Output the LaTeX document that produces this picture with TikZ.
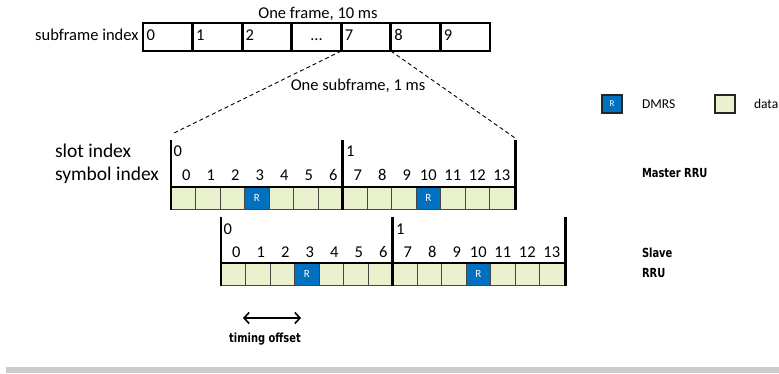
\documentclass[tikz,border=0pt]{standalone}
\usepackage{fontspec}
\setmainfont{Carlito}
\newfontfamily\headfont{DejaVu Sans Condensed Bold}[FakeStretch=0.88]
\usetikzlibrary{arrows.meta,calc}
\definecolor{dmrsblue}{RGB}{0,112,192}
\definecolor{datafill}{RGB}{233,242,205}
\definecolor{cellline}{RGB}{70,70,70}
\definecolor{rulegray}{RGB}{204,204,204}

\begin{document}
\begin{tikzpicture}[x=1pt,y=-1pt,
  every node/.style={inner sep=0pt,outer sep=0pt},
  txt/.style={font=\fontsize{16.5}{18}\selectfont},
  rowlbl/.style={font=\fontsize{19.5}{21}\selectfont},
  small/.style={font=\fontsize{13.5}{15}\selectfont},
  head/.style={font=\headfont\fontsize{12.5}{14}\selectfont},
  framecell/.style={draw=black,line width=2.8pt,minimum width=49.57pt,minimum height=28pt,anchor=north west},
  datacell/.style={draw=cellline,line width=0.8pt,fill=datafill,minimum width=24.5pt,minimum height=22pt,anchor=north west},
  dmrscell/.style={datacell,fill=dmrsblue,text=white,font=\fontsize{11}{11}\selectfont},
  legendbox/.style={draw=black!85,line width=1.2pt,minimum width=20pt,minimum height=18pt,anchor=north west},
  slotbar/.style={line width=2.6pt},
  guide/.style={dash pattern=on 4pt off 3pt,line width=0.9pt},
  offsetarrow/.style={{Straight Barb[length=5pt,width=11pt]}-{Straight Barb[length=5pt,width=11pt]},line width=1.6pt},
]
\useasboundingbox (0,0) rectangle (779,374);

% ---- radio frame of ten subframes ----
\foreach \i in {0,...,6}
  \node[framecell] (f\i) at ({143+\i*49.57},23) {};
\foreach \i/\lab in {0/0,1/1,2/2,4/7,5/8,6/9}
  \node[txt,anchor=base west] (fl\i) at ($(f\i.south west)+(3.5,-10)$) {\lab};
\node[txt,anchor=base] (fl3) at ($(f3.south)+(0,-10)$) {...};
\node[txt,anchor=base east] (sfidx) at ($(f0.south west)+(-4.5,-10)$) {subframe index};
\node[txt,anchor=base] (frametitle) at (318,18.5) {One frame, 10 ms};

% ---- zoom from subframe 7 onto the slot grid ----
\coordinate (zl) at (172,134);
\coordinate (zr) at (515,138);
\draw[guide] (f4.south west) -- (zl);
\draw[guide] (f4.south east) -- (zr);
\node[txt,anchor=base] (subtitle) at (358,91) {One subframe, 1 ms};

% ---- master RRU: two slots of seven symbols ----
\foreach \i in {0,1,2,4,5,6,7,8,9,11,12,13}
  \node[datacell] (m\i) at ({171+\i*24.5},187) {};
\foreach \i in {3,10}
  \node[dmrscell] (m\i) at ({171+\i*24.5},187) {R};
\draw[line width=1.6pt] (m0.north west) -- (m13.north east);
\coordinate (mb0) at (171,140);
\coordinate (mb1) at (342.5,140);
\coordinate (mb2) at (515.5,140);
\draw[slotbar] ($(m0.south west)+(0,1)$) -- (mb0);
\draw[slotbar] ($(m7.south west)+(0,1)$) -- (mb1);
\draw[slotbar] ($(m13.south east)+(1.5,1)$) -- (mb2);
\foreach \i in {0,...,13}{
  \pgfmathsetmacro\dx{ifthenelse(\i<10,3,0)}
  \node[txt,anchor=base] (ms\i) at ($(m\i.north)+(\dx,-6)$) {\i};
}
\node[txt,anchor=base west] (mslot0) at ($(m0.north west)+(2.5,-30)$) {0};
\node[txt,anchor=base west] (mslot1) at ($(m7.north west)+(3.5,-30)$) {1};
\node[rowlbl,anchor=base west] (slotlbl) at (55,158) {slot index};
\node[rowlbl,anchor=base west] (symlbl) at (55,181) {symbol index};
\node[head,anchor=base west] (mrru) at (642,178) {Master RRU};

% ---- slave RRU: same grid, shifted by two symbols ----
\foreach \i in {0,1,2,4,5,6,7,8,9,11,12,13}
  \node[datacell] (s\i) at ({221+\i*24.5},263) {};
\foreach \i in {3,10}
  \node[dmrscell] (s\i) at ({221+\i*24.5},263) {R};
\draw[line width=1.6pt] (s0.north west) -- (s13.north east);
\coordinate (sb0) at (221,217);
\coordinate (sb1) at (392.5,217);
\coordinate (sb2) at (565.5,217);
\draw[slotbar] ($(s0.south west)+(0,1)$) -- (sb0);
\draw[slotbar] ($(s7.south west)+(0,1)$) -- (sb1);
\draw[slotbar] ($(s13.south east)+(1.5,1)$) -- (sb2);
\foreach \i in {0,...,13}{
  \pgfmathsetmacro\dx{ifthenelse(\i<10,3,0)}
  \node[txt,anchor=base] (ss\i) at ($(s\i.north)+(\dx,-6)$) {\i};
}
\node[txt,anchor=base west] (sslot0) at ($(s0.north west)+(2.5,-28)$) {0};
\node[txt,anchor=base west] (sslot1) at ($(s7.north west)+(3.5,-28)$) {1};
\node[head,anchor=base west] (srru1) at (642,258) {Slave};
\node[head,anchor=base west] (srru2) at (642,277) {RRU};

% ---- timing offset ----
\coordinate (toL) at (243,318);
\coordinate (toR) at (301,318);
\draw[offsetarrow] (toL) -- (toR);
\node[head,anchor=base] (tolbl) at (265,342) {timing offset};

% ---- legend ----
\node[legendbox,fill=dmrsblue,text=white,font=\fontsize{9}{9}\selectfont] (legR) at (602,95) {R};
\node[small,anchor=west] (legRt) at (642,104) {DMRS};
\node[legendbox,fill=datafill] (legD) at (715,95) {};
\node[small,anchor=west] (legDt) at (754,104) {data};

% ---- footer rule ----
\fill[rulegray] (6,367) rectangle (779,373);
\end{tikzpicture}
\end{document}
